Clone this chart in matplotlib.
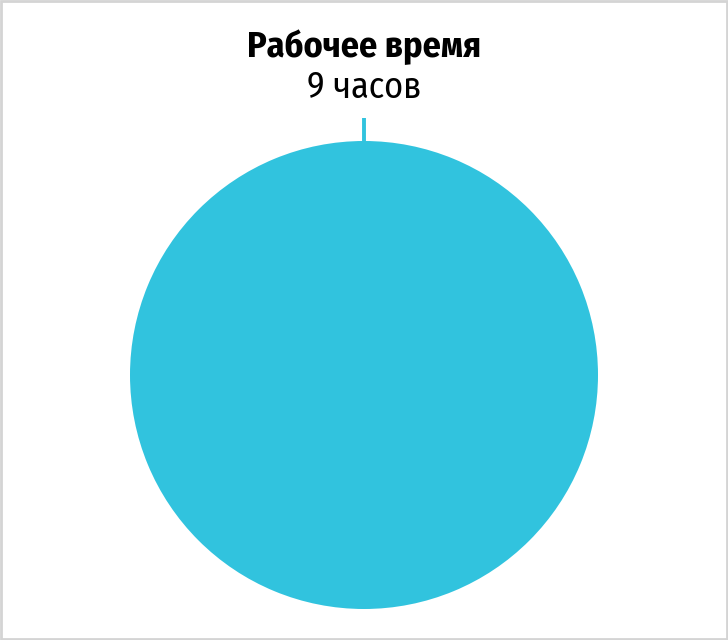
import matplotlib
matplotlib.use("Agg")
from matplotlib import pyplot as plt
from matplotlib.patches import Rectangle

# data
categories = ["Рабочее время"]
hours = [9]
value_labels = ["9 часов"]
colors = ["#31c3de"]

label_font = ["Fira Sans Condensed", "DejaVu Sans"]

fig = plt.figure(figsize=(7.28, 6.4), dpi=100)
fig.patch.set_facecolor("white")

# axes sized so the circle fills it
ax = fig.add_axes([130 / 728, 31 / 640, 468 / 728, 468 / 640])
ax.pie(hours, colors=colors, startangle=90, counterclock=False,
       radius=1, wedgeprops=dict(linewidth=0))
ax.set_xlim(-1, 1)
ax.set_ylim(-1, 1)
ax.set_aspect("auto")
ax.axis("off")

# leader line and label
ax.plot([0, 0], [1.0, 1.098], color=colors[0], lw=2.8, clip_on=False,
        solid_capstyle="butt")
ax.text(0, 1.359, categories[0], ha="center", va="baseline",
        fontsize=26, fontweight="bold", family=label_font, clip_on=False)
ax.text(0, 1.184, value_labels[0], ha="center", va="baseline",
        fontsize=26, family=label_font, clip_on=False)

# light gray frame around the picture
fig.patches.append(Rectangle((0.0015, 0.0015), 0.997, 0.997,
                             transform=fig.transFigure, fill=False,
                             edgecolor="#d4d4d4", linewidth=2))

fig.savefig("out.png", dpi=100)
